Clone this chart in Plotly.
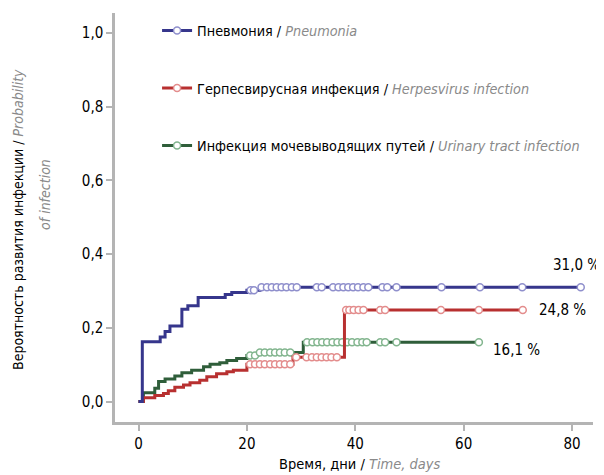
import numpy as np
import plotly.graph_objects as go

# ---- data ----
# Pneumonia: event times (days) and cumulative probability after each step
pn_times = [0, 0.7, 4.0, 4.9, 5.8, 8.0, 9.1, 11.0, 16.0, 17.2, 20.0, 22.4]
pn_values = [0, 0.162, 0.175, 0.19, 0.205, 0.25, 0.26, 0.282, 0.29, 0.296, 0.302, 0.31]
pn_censor = [20.7, 21.3, 22.7, 23.7, 24.6, 25.5, 26.4, 27.3, 28.3, 29.2, 32.9, 33.8,
             35.9, 36.9, 37.8, 38.7, 39.6, 40.5, 41.5, 42.4, 45.0, 45.9, 47.6,
             55.9, 63.0, 70.8, 81.6]

# Herpesvirus infection
hv_times = [0, 0.9, 3.0, 4.6, 5.5, 6.7, 8.3, 9.5, 11.3, 12.6, 14.4, 16.3, 17.5, 20.0, 28.5, 38.0]
hv_values = [0, 0.010, 0.016, 0.022, 0.029, 0.039, 0.045, 0.051, 0.058, 0.067, 0.075,
             0.081, 0.085, 0.101, 0.12, 0.248]
hv_censor = [20.6, 21.5, 22.4, 23.3, 24.3, 25.2, 26.1, 27.0, 28.0, 29.1, 31.0, 32.0,
             32.9, 33.8, 34.7, 35.6, 36.6, 38.3, 38.9, 39.7, 40.6, 41.5, 44.6, 45.5,
             55.8, 62.8, 70.9]

# Urinary tract infection
ut_times = [0, 0.9, 3.0, 3.7, 4.9, 6.7, 8.0, 9.8, 12.0, 13.2, 15.0, 16.3, 18.1, 20.0, 22.0, 30.4]
ut_values = [0, 0.024, 0.036, 0.054, 0.061, 0.069, 0.078, 0.085, 0.094, 0.101, 0.105,
             0.111, 0.117, 0.125, 0.133, 0.161]
ut_censor = [20.6, 21.5, 22.4, 23.3, 24.3, 25.2, 26.1, 27.0, 28.0, 31.1, 32.1, 33.0,
             33.9, 34.8, 35.8, 36.7, 37.6, 38.5, 39.4, 40.4, 41.3, 42.1, 44.6, 45.5,
             47.6, 62.8]

final_labels = ["31,0 %", "24,8 %", "16,1 %"]
names_ru = ["Пневмония", "Герпесвирусная инфекция", "Инфекция мочевыводящих путей"]
names_en = ["Pneumonia", "Herpesvirus infection", "Urinary tract infection"]
x_ticks = [0, 20, 40, 60, 80]
y_ticks = [0.0, 0.2, 0.4, 0.6, 0.8, 1.0]

# ---- styles ----
FONT = "DejaVu Sans Condensed, Liberation Sans Narrow, sans-serif"
GRAY = "#8a8a8a"
AXIS = "#b4b4b4"
line_cols = ["#36368c", "#b83030", "#2f5e3a"]
mark_cols = ["#8f8fcc", "#e38c8c", "#82b58e"]

W, H = 596, 467          # page has an 8px body offset
L, R, T, B = 107, 11, 5, 53
PW, PH = W - L - R, H - T - B

series = [
    (pn_times, pn_values, pn_censor),
    (hv_times, hv_values, hv_censor),
    (ut_times, ut_values, ut_censor),
]

fig = go.Figure()

# legend entries
for i in range(3):
    fig.add_trace(go.Scatter(
        x=[None], y=[None], mode="lines+markers",
        name=f"{names_ru[i]} / <i><span style='color:{GRAY}'>{names_en[i]}</span></i>",
        legendgroup=f"g{i}",
        line=dict(color=line_cols[i], width=3),
        marker=dict(symbol="circle", size=7, color="white",
                    line=dict(color=mark_cols[i], width=1.5)),
    ))

ends = []
for i in [2, 1, 0]:
    t, v, c = series[i]
    t = np.array(t, dtype=float)
    v = np.array(v, dtype=float)
    c = np.array(c, dtype=float)
    idx = np.searchsorted(t, c, side="right") - 1
    cy = v[idx]
    xe = max(t[-1], c[-1])
    lx = list(t) + [xe]
    ly = list(v) + [v[-1]]
    fig.add_trace(go.Scatter(
        x=lx, y=ly, mode="lines", line=dict(color=line_cols[i], width=3, shape="hv"),
        showlegend=False, hoverinfo="skip"))
    fig.add_trace(go.Scatter(
        x=c, y=cy, mode="markers", showlegend=False, hoverinfo="skip",
        marker=dict(symbol="circle", size=7, color="white",
                    line=dict(color=mark_cols[i], width=1.5))))
    ends.append((i, xe, v[-1]))

# (xanchor, xshift, yshift) relative to the last point of each curve
shifts = {0: ("right", 21, 22), 1: ("left", 14, 0), 2: ("left", 12, -8)}
for i, xe, ye in ends:
    xa, dx, dy = shifts[i]
    fig.add_annotation(x=xe, y=ye, text=final_labels[i], showarrow=False,
                       xanchor=xa, yanchor="middle", xshift=dx, yshift=dy,
                       font=dict(family=FONT, size=15, color="black"))

# axis titles (positions given in page pixels, minus the 8px offset)
def px(xp):
    return (xp - 8 - L) / PW

def py(yp):
    return 1 - (yp - 8 - T) / PH

fig.add_annotation(xref="paper", yref="paper", x=0, y=py(220),
                   xshift=(18 - 8) - L, xanchor="center", yanchor="middle", textangle=-90,
                   showarrow=False,
                   text=f"Вероятность развития инфекции / <i><span style='color:{GRAY}'>Probability</span></i>",
                   font=dict(family=FONT, size=14, color="black"))
fig.add_annotation(xref="paper", yref="paper", x=0, y=py(195),
                   xshift=(45 - 8) - L, xanchor="center", yanchor="middle", textangle=-90,
                   showarrow=False,
                   text=f"<i><span style='color:{GRAY}'>of infection</span></i>",
                   font=dict(family=FONT, size=14, color="black"))
fig.add_annotation(xref="paper", yref="paper", x=px(360), y=py(464),
                   xanchor="center", yanchor="middle",
                   showarrow=False,
                   text=f"Время, дни / <i><span style='color:{GRAY}'>Time, days</span></i>",
                   font=dict(family=FONT, size=14.5, color="black"))

fig.update_layout(
    width=W, height=H,
    margin=dict(l=L, r=R, t=T, b=B),
    paper_bgcolor="white", plot_bgcolor="white",
    separators=", ",
    font=dict(family=FONT, size=15, color="black"),
    showlegend=True,
    legend=dict(x=0.088, y=0.996, xanchor="left", yanchor="top",
                bgcolor="rgba(0,0,0,0)", tracegroupgap=36,
                font=dict(family=FONT, size=14.3, color="black")),
    xaxis=dict(range=[-4.34, 83.86], tickvals=x_ticks, showgrid=False, zeroline=False,
               showline=True, linecolor=AXIS, linewidth=2.5, ticks="outside",
               ticklen=6, tickwidth=2, tickcolor=AXIS,
               tickfont=dict(family=FONT, size=15, color="black")),
    yaxis=dict(range=[-0.0556, 1.054], tickvals=y_ticks, tickformat=".1f",
               showgrid=False, zeroline=False,
               showline=True, linecolor=AXIS, linewidth=2.5, ticks="outside",
               ticklen=6, tickwidth=2, tickcolor=AXIS,
               tickfont=dict(family=FONT, size=15, color="black")),
)

fig.write_html("out.html")
